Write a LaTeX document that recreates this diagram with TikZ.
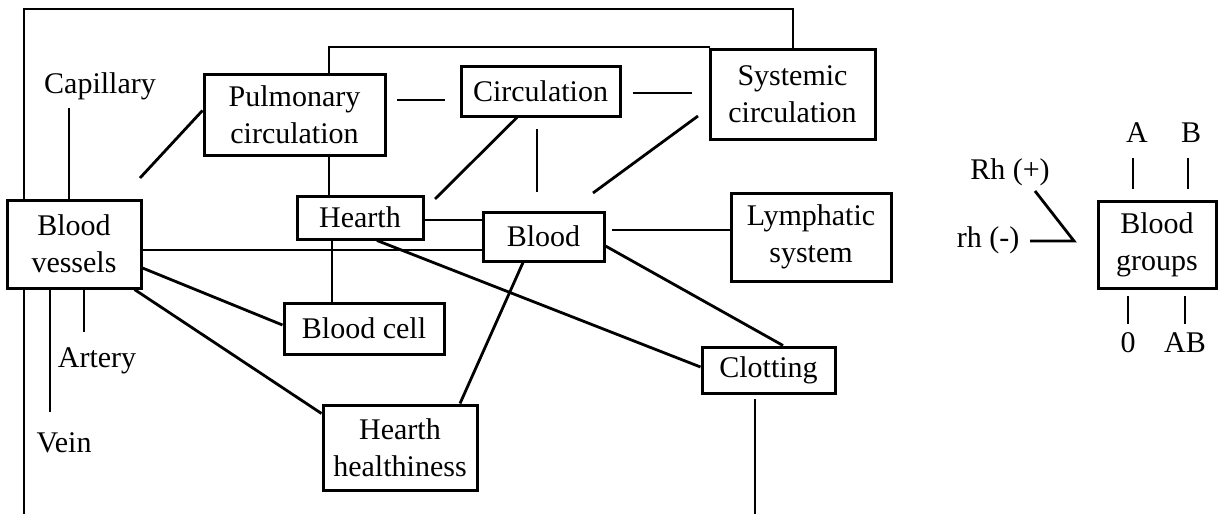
\documentclass[tikz,border=0pt]{standalone}
\usepackage{fontspec}
\setmainfont{Liberation Serif}
\tikzset{
  box/.style={draw, line width=3pt, inner sep=0pt, align=center, fill=white,
    font=\fontsize{30}{37}\selectfont},
  lbl/.style={inner sep=0pt, anchor=base, font=\fontsize{30}{37}\selectfont},
  con/.style={line width=2.8pt}
}
\begin{document}
\begin{tikzpicture}[x=1pt,y=-1pt]
\useasboundingbox (0,0) rectangle (1225,514);
% frame corner points
\coordinate (fl) at (24,9);
\coordinate (fr) at (793,9);
\coordinate (f2a) at (329,47);
\coordinate (f2b) at (710,47);
\coordinate (bot) at (24,514);
\coordinate (clb) at (755,514);

% boxes
\node[box, minimum width=134pt, minimum height=88pt] (bv) at (74,244) {Blood\\vessels};
\node[box, minimum width=181pt, minimum height=81pt] (pul) at (294.5,114.5) {Pulmonary\\circulation};
\node[box, minimum width=159pt, minimum height=50pt] (circ) at (540.5,91) {Circulation};
\node[box, minimum width=165pt, minimum height=90pt] (sys) at (792.5,94) {Systemic\\circulation};
\node[box, minimum width=126pt, minimum height=43pt] (hearth) at (360,217.5) {Hearth};
\node[box, minimum width=121pt, minimum height=49pt] (blood) at (543.5,236.5) {Blood};
\node[box, minimum width=160pt, minimum height=88pt] (lym) at (811,237) {Lymphatic\\system};
\node[box, minimum width=160pt, minimum height=51pt] (cell) at (364,328.5) {Blood cell};
\node[box, minimum width=154pt, minimum height=85pt] (hh) at (400,447.5) {Hearth\\healthiness};
\node[box, minimum width=133pt, minimum height=46pt] (clot) at (768.5,370) {Clotting};
\node[box, minimum width=118pt, minimum height=87pt] (bg) at (1157,244.5) {Blood\\groups};

% free labels
\node[lbl] (cap) at (100,93) {Capillary};
\node[lbl] (art) at (97,367) {Artery};
\node[lbl] (vein) at (64,452) {Vein};
\node[lbl] (ga) at (1137,142) {A};
\node[lbl] (gb) at (1191,142) {B};
\node[lbl] (rhp) at (1010,179) {Rh (+)};
\node[lbl] (rhm) at (988,247) {rh (-)};
\node[lbl] (go) at (1128,352) {0};
\node[lbl] (gab) at (1185,352) {AB};

% free ends
\coordinate (capend) at (69,108);
\coordinate (bvp) at (140,178);
\coordinate (pc1) at (397,100);
\coordinate (pc2) at (445,100);
\coordinate (cs1) at (633,93);
\coordinate (cs2) at (692,93);
\coordinate (ch) at (435,199);
\coordinate (cb1) at (537,129);
\coordinate (cb2) at (537,192);
\coordinate (sb1) at (698,116);
\coordinate (sb2) at (593,193);
\coordinate (hc) at (332,0);
\coordinate (bl) at (612,230);
\coordinate (artx) at (84,332);
\coordinate (veinx) at (50,412);
\coordinate (cltop) at (755,399);
\coordinate (rhp1) at (1035,191);
\coordinate (rhj) at (1074,241);
\coordinate (rhm1) at (1030,241);
\coordinate (la1) at (1133,158);
\coordinate (la2) at (1133,189);
\coordinate (lb1) at (1188,158);
\coordinate (lb2) at (1188,189);
\coordinate (lo1) at (1128,296);
\coordinate (lo2) at (1128,324);
\coordinate (lab1) at (1185,296);
\coordinate (lab2) at (1185,324);

\begin{scope}[con]
% outer frame
\draw (bv.north -| fl) -- (fl) -- (fr) -- (sys.north -| fr);
\draw (bv.south -| bot) -- (bot);
\draw (cltop) -- (clb);
% inner frame
\draw (pul.north -| f2a) -- (f2a) -- (f2b);
% connectors
\draw (capend) -- (capend |- bv.north);
\draw (bvp) -- ([yshift=4pt]pul.west);
\draw (pc1) -- (pc2);
\draw (cs1) -- (cs2);
\draw (pul.south -| f2a) -- (hearth.north -| f2a);
\draw ([xshift=-23.5pt]circ.south) -- (ch);
\draw (cb1) -- (cb2);
\draw (sb1) -- (sb2);
\draw ([yshift=-2.5pt]hearth.east) -- ([yshift=-2.5pt]hearth.east -| blood.west);
\draw ([yshift=-6pt]bv.east) -- ([yshift=-6pt]bv.east -| blood.west);
\draw (hearth.south -| hc) -- (cell.north -| hc);
\draw ([xshift=17pt]hearth.south) -- ([yshift=3pt]clot.west);
\draw ([yshift=-9.5pt]blood.east) -- ([xshift=14.5pt]clot.north);
\draw ([xshift=-20.5pt]blood.south) -- ([xshift=60pt]hh.north);
\draw (bl) -- (bl -| lym.west);
\draw ([yshift=-24pt]bv.east) -- ([yshift=3.5pt]cell.west);
\draw ([xshift=-8pt]bv.south east) -- ([yshift=-10pt]hh.north west);
\draw (bv.south -| artx) -- (artx);
\draw (bv.south -| veinx) -- (veinx);
% blood groups
\draw (rhp1) -- (rhj) -- (rhm1);
\draw (la1) -- (la2);
\draw (lb1) -- (lb2);
\draw (lo1) -- (lo2);
\draw (lab1) -- (lab2);
\end{scope}
\end{tikzpicture}
\end{document}
